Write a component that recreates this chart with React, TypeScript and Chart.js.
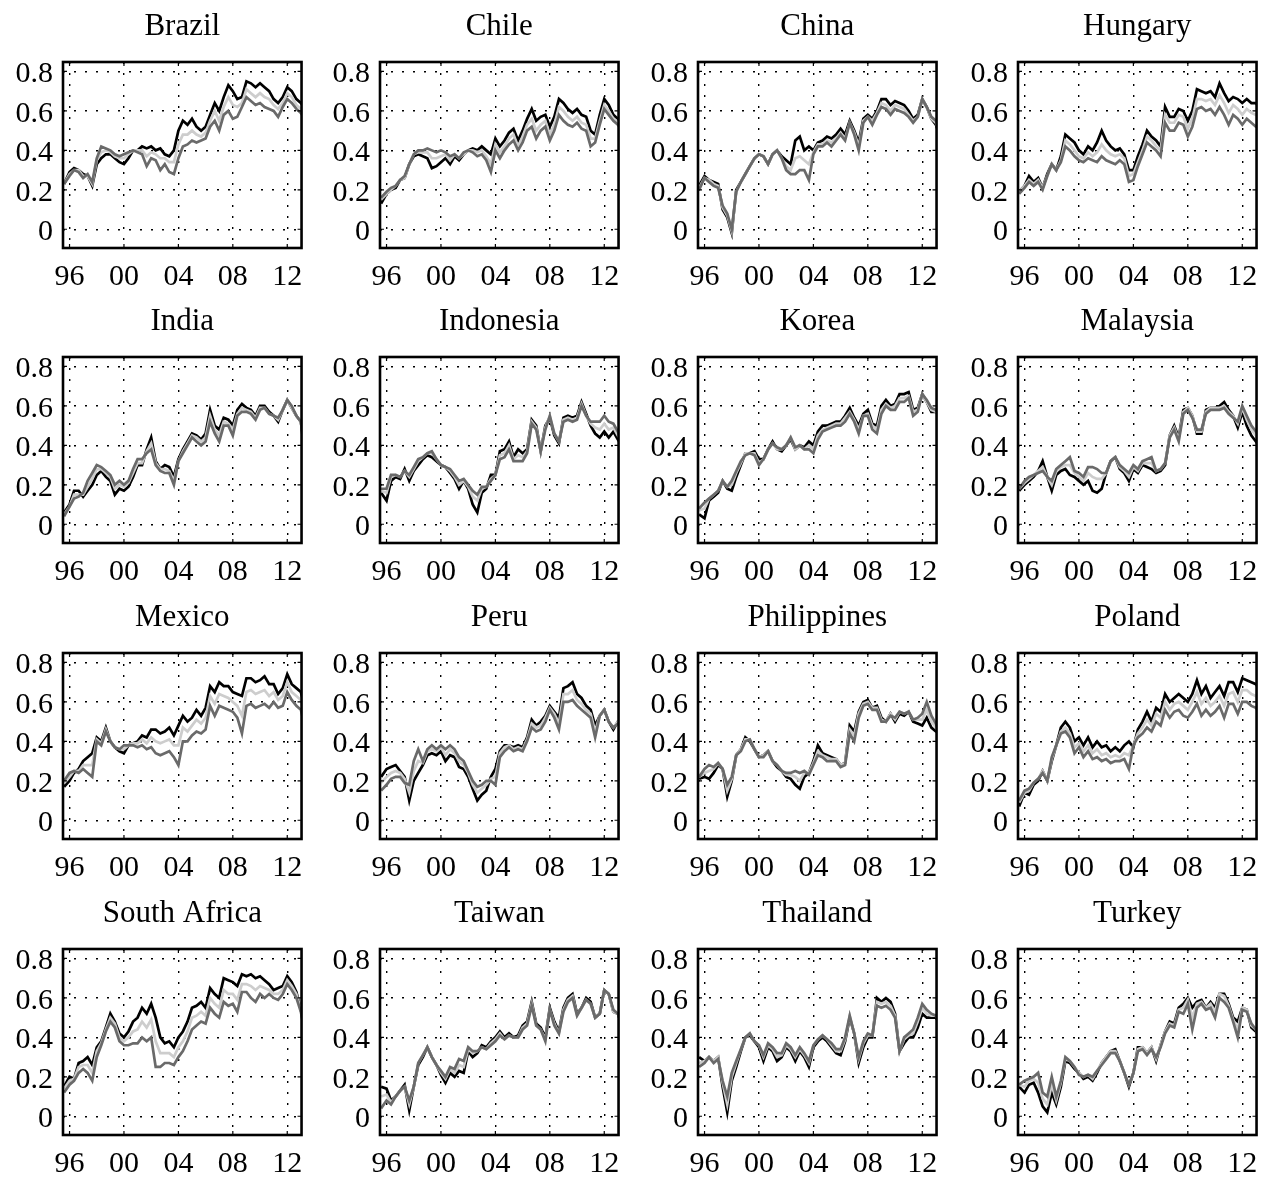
import React, { useEffect, useRef } from "react";
import { Chart, registerables } from "chart.js";

Chart.register(...registerables);

// ---------- data ----------
const dates = [1995.6, 1996.0, 1996.33, 1996.67, 1997.0, 1997.33, 1997.67, 1998.0, 1998.33, 1998.67, 1999.0, 1999.33, 1999.67, 2000.0, 2000.33, 2000.67, 2001.0, 2001.33, 2001.67, 2002.0, 2002.33, 2002.67, 2003.0, 2003.33, 2003.67, 2004.0, 2004.33, 2004.67, 2005.0, 2005.33, 2005.67, 2006.0, 2006.33, 2006.67, 2007.0, 2007.33, 2007.67, 2008.0, 2008.33, 2008.67, 2009.0, 2009.33, 2009.67, 2010.0, 2010.33, 2010.67, 2011.0, 2011.33, 2011.67, 2012.0, 2012.33, 2012.67, 2013.0, 2013.1];

const xTickValues = [1996, 2000, 2004, 2008, 2012];
const xTickLabels = ["96", "00", "04", "08", "12"];
const yTickValues = [0, 0.2, 0.4, 0.6, 0.8];
const yTickLabels = ["0", "0.2", "0.4", "0.6", "0.8"];

const brazilBlack = [0.23,0.29,0.31,0.30,0.28,0.27,0.22,0.33,0.36,0.38,0.38,0.36,0.34,0.33,0.36,0.40,0.40,0.42,0.41,0.42,0.40,0.41,0.38,0.37,0.40,0.50,0.55,0.53,0.56,0.52,0.50,0.52,0.58,0.64,0.60,0.67,0.73,0.70,0.66,0.67,0.75,0.74,0.72,0.74,0.72,0.70,0.66,0.64,0.67,0.72,0.70,0.66,0.64,0.63];
const brazilLight = [0.23,0.28,0.30,0.30,0.27,0.27,0.23,0.35,0.39,0.40,0.39,0.37,0.36,0.36,0.38,0.40,0.40,0.40,0.37,0.39,0.38,0.36,0.36,0.34,0.34,0.43,0.48,0.48,0.50,0.48,0.47,0.49,0.55,0.60,0.55,0.62,0.67,0.63,0.62,0.64,0.71,0.69,0.67,0.69,0.67,0.66,0.63,0.61,0.64,0.69,0.67,0.63,0.61,0.60];
const brazilDark = [0.23,0.27,0.30,0.29,0.26,0.28,0.24,0.36,0.42,0.41,0.40,0.38,0.37,0.38,0.39,0.40,0.39,0.38,0.32,0.36,0.35,0.30,0.33,0.29,0.28,0.36,0.42,0.43,0.45,0.44,0.45,0.46,0.52,0.55,0.50,0.58,0.60,0.56,0.57,0.62,0.67,0.65,0.63,0.64,0.62,0.61,0.60,0.57,0.62,0.66,0.64,0.61,0.59,0.58];

const chileBlack = [0.13,0.18,0.20,0.21,0.25,0.26,0.33,0.37,0.38,0.37,0.36,0.31,0.32,0.34,0.36,0.33,0.37,0.35,0.38,0.40,0.41,0.40,0.42,0.40,0.38,0.46,0.42,0.45,0.49,0.51,0.45,0.50,0.56,0.61,0.55,0.57,0.58,0.52,0.57,0.66,0.64,0.61,0.59,0.61,0.58,0.57,0.50,0.48,0.58,0.66,0.63,0.58,0.56,0.55];
const chileLight = [0.15,0.18,0.20,0.22,0.25,0.26,0.33,0.38,0.39,0.39,0.39,0.36,0.36,0.37,0.38,0.35,0.38,0.36,0.38,0.40,0.40,0.39,0.40,0.37,0.33,0.43,0.39,0.42,0.46,0.48,0.42,0.47,0.53,0.56,0.50,0.53,0.55,0.48,0.53,0.62,0.60,0.57,0.55,0.57,0.54,0.53,0.46,0.46,0.55,0.63,0.60,0.56,0.54,0.53];
const chileDark = [0.16,0.19,0.21,0.22,0.25,0.27,0.33,0.38,0.40,0.40,0.41,0.40,0.39,0.40,0.39,0.37,0.38,0.36,0.39,0.40,0.39,0.37,0.38,0.35,0.29,0.40,0.36,0.40,0.43,0.45,0.40,0.44,0.50,0.52,0.46,0.50,0.52,0.45,0.50,0.58,0.55,0.53,0.52,0.54,0.51,0.50,0.42,0.44,0.53,0.61,0.58,0.55,0.53,0.52];

const chinaBlack = [0.22,0.27,0.25,0.24,0.23,0.10,0.06,-0.02,0.20,0.24,0.28,0.32,0.36,0.38,0.37,0.33,0.38,0.40,0.37,0.35,0.33,0.45,0.47,0.40,0.42,0.40,0.44,0.45,0.47,0.46,0.48,0.51,0.48,0.55,0.50,0.44,0.56,0.58,0.56,0.60,0.66,0.66,0.63,0.65,0.64,0.63,0.60,0.56,0.58,0.66,0.62,0.56,0.53,0.51];
const chinaLight = [0.21,0.26,0.25,0.23,0.22,0.11,0.07,-0.01,0.19,0.24,0.28,0.32,0.36,0.38,0.37,0.33,0.38,0.40,0.36,0.32,0.30,0.36,0.37,0.35,0.33,0.39,0.43,0.43,0.45,0.44,0.46,0.49,0.46,0.54,0.49,0.42,0.55,0.57,0.55,0.59,0.64,0.63,0.60,0.63,0.62,0.61,0.58,0.55,0.57,0.66,0.62,0.56,0.54,0.52];
const chinaDark = [0.20,0.26,0.24,0.22,0.21,0.12,0.08,0.00,0.19,0.24,0.28,0.32,0.36,0.38,0.37,0.33,0.38,0.40,0.36,0.30,0.28,0.28,0.30,0.30,0.25,0.38,0.42,0.42,0.44,0.42,0.45,0.48,0.45,0.54,0.48,0.40,0.54,0.57,0.53,0.58,0.62,0.61,0.58,0.61,0.60,0.59,0.57,0.54,0.57,0.66,0.62,0.57,0.55,0.54];

const hungaryBlack = [0.19,0.22,0.27,0.24,0.26,0.21,0.28,0.33,0.30,0.37,0.48,0.46,0.44,0.40,0.38,0.42,0.40,0.44,0.50,0.45,0.42,0.40,0.41,0.38,0.30,0.30,0.37,0.43,0.50,0.47,0.45,0.42,0.62,0.57,0.57,0.61,0.60,0.55,0.60,0.71,0.70,0.69,0.70,0.67,0.74,0.69,0.65,0.67,0.66,0.64,0.66,0.64,0.64,0.63];
const hungaryLight = [0.19,0.22,0.25,0.23,0.25,0.21,0.27,0.33,0.30,0.35,0.45,0.43,0.40,0.37,0.36,0.39,0.37,0.39,0.43,0.40,0.38,0.37,0.38,0.36,0.27,0.28,0.34,0.40,0.47,0.45,0.42,0.40,0.58,0.54,0.54,0.58,0.57,0.51,0.56,0.66,0.66,0.65,0.66,0.63,0.68,0.64,0.59,0.63,0.61,0.58,0.61,0.59,0.58,0.58];
const hungaryDark = [0.18,0.21,0.24,0.22,0.24,0.20,0.27,0.33,0.30,0.34,0.42,0.40,0.37,0.35,0.34,0.36,0.35,0.34,0.37,0.35,0.34,0.33,0.35,0.33,0.24,0.25,0.32,0.38,0.44,0.42,0.40,0.37,0.54,0.50,0.50,0.54,0.53,0.47,0.52,0.61,0.62,0.60,0.61,0.58,0.62,0.58,0.53,0.58,0.56,0.53,0.56,0.54,0.52,0.52];

const indiaBlack = [0.06,0.10,0.17,0.17,0.14,0.17,0.20,0.25,0.27,0.24,0.22,0.15,0.18,0.17,0.19,0.24,0.30,0.30,0.38,0.44,0.32,0.28,0.30,0.29,0.24,0.33,0.38,0.42,0.46,0.45,0.43,0.46,0.58,0.50,0.48,0.54,0.53,0.50,0.58,0.61,0.59,0.58,0.55,0.60,0.60,0.57,0.55,0.52,0.58,0.63,0.59,0.55,0.52,0.47];
const indiaLight = [0.05,0.09,0.15,0.15,0.15,0.19,0.23,0.28,0.28,0.26,0.24,0.18,0.20,0.19,0.21,0.26,0.31,0.31,0.37,0.41,0.31,0.28,0.28,0.27,0.22,0.32,0.37,0.41,0.45,0.44,0.42,0.44,0.55,0.48,0.45,0.52,0.51,0.48,0.56,0.59,0.58,0.57,0.54,0.59,0.59,0.56,0.55,0.53,0.58,0.63,0.59,0.55,0.52,0.46];
const indiaDark = [0.04,0.09,0.13,0.14,0.16,0.22,0.26,0.30,0.29,0.27,0.25,0.20,0.22,0.20,0.22,0.28,0.33,0.33,0.36,0.38,0.30,0.27,0.26,0.26,0.20,0.32,0.36,0.40,0.44,0.42,0.40,0.42,0.52,0.46,0.42,0.50,0.50,0.45,0.55,0.57,0.57,0.56,0.53,0.58,0.59,0.56,0.55,0.54,0.58,0.63,0.60,0.55,0.52,0.46];

const indonesiaBlack = [0.16,0.12,0.22,0.24,0.23,0.28,0.22,0.27,0.30,0.33,0.35,0.34,0.32,0.30,0.29,0.26,0.23,0.18,0.22,0.18,0.10,0.06,0.16,0.18,0.25,0.25,0.37,0.38,0.42,0.34,0.38,0.36,0.38,0.53,0.50,0.37,0.50,0.54,0.45,0.41,0.54,0.55,0.54,0.55,0.62,0.56,0.50,0.46,0.44,0.47,0.44,0.47,0.43,0.42];
const indonesiaLight = [0.17,0.16,0.24,0.25,0.24,0.27,0.24,0.28,0.32,0.34,0.36,0.36,0.33,0.30,0.29,0.27,0.24,0.20,0.22,0.19,0.14,0.12,0.18,0.19,0.23,0.25,0.35,0.36,0.40,0.33,0.35,0.34,0.37,0.52,0.49,0.37,0.49,0.55,0.46,0.42,0.53,0.54,0.53,0.54,0.61,0.55,0.51,0.49,0.48,0.51,0.48,0.49,0.45,0.44];
const indonesiaDark = [0.18,0.18,0.25,0.25,0.24,0.27,0.25,0.29,0.33,0.34,0.36,0.37,0.33,0.30,0.29,0.28,0.25,0.22,0.23,0.20,0.17,0.15,0.19,0.19,0.22,0.25,0.33,0.34,0.38,0.32,0.32,0.32,0.36,0.51,0.48,0.37,0.48,0.55,0.46,0.42,0.52,0.53,0.52,0.53,0.60,0.55,0.52,0.52,0.52,0.55,0.52,0.51,0.47,0.45];

const koreaBlack = [0.05,0.03,0.12,0.14,0.16,0.22,0.18,0.17,0.24,0.30,0.36,0.36,0.37,0.33,0.33,0.38,0.42,0.38,0.37,0.40,0.43,0.38,0.40,0.39,0.42,0.40,0.47,0.50,0.50,0.51,0.52,0.52,0.55,0.59,0.54,0.50,0.56,0.58,0.51,0.50,0.60,0.63,0.60,0.61,0.66,0.66,0.67,0.58,0.59,0.66,0.62,0.57,0.57,0.56];
const koreaLight = [0.07,0.08,0.13,0.15,0.17,0.22,0.19,0.20,0.26,0.31,0.36,0.36,0.36,0.31,0.33,0.38,0.41,0.38,0.38,0.40,0.44,0.38,0.40,0.38,0.40,0.38,0.45,0.48,0.49,0.50,0.51,0.51,0.54,0.57,0.53,0.48,0.55,0.56,0.50,0.48,0.58,0.61,0.59,0.60,0.64,0.64,0.65,0.57,0.58,0.66,0.62,0.58,0.57,0.56];
const koreaDark = [0.08,0.11,0.13,0.15,0.17,0.22,0.19,0.22,0.27,0.32,0.35,0.36,0.35,0.30,0.33,0.38,0.41,0.39,0.38,0.40,0.44,0.39,0.40,0.38,0.38,0.36,0.43,0.47,0.48,0.49,0.50,0.50,0.52,0.56,0.52,0.46,0.55,0.55,0.48,0.46,0.56,0.60,0.58,0.58,0.62,0.62,0.64,0.55,0.57,0.66,0.63,0.59,0.58,0.57];

const malaysiaBlack = [0.17,0.20,0.22,0.24,0.27,0.32,0.24,0.17,0.25,0.27,0.28,0.25,0.24,0.22,0.20,0.22,0.17,0.16,0.18,0.26,0.32,0.34,0.28,0.26,0.22,0.28,0.26,0.30,0.29,0.28,0.26,0.27,0.30,0.45,0.50,0.44,0.58,0.59,0.55,0.46,0.46,0.58,0.59,0.59,0.60,0.62,0.58,0.55,0.49,0.57,0.50,0.45,0.42,0.41];
const malaysiaLight = [0.18,0.21,0.23,0.25,0.27,0.29,0.24,0.20,0.27,0.29,0.30,0.30,0.26,0.24,0.22,0.26,0.24,0.23,0.23,0.26,0.32,0.34,0.29,0.27,0.24,0.29,0.27,0.31,0.31,0.31,0.27,0.28,0.31,0.45,0.49,0.43,0.57,0.59,0.55,0.47,0.47,0.57,0.59,0.59,0.59,0.60,0.57,0.55,0.51,0.59,0.53,0.48,0.45,0.44];
const malaysiaDark = [0.18,0.22,0.24,0.25,0.26,0.27,0.24,0.22,0.28,0.30,0.32,0.34,0.27,0.26,0.24,0.29,0.29,0.28,0.26,0.26,0.32,0.34,0.30,0.28,0.26,0.30,0.28,0.32,0.33,0.34,0.27,0.28,0.31,0.44,0.48,0.42,0.56,0.58,0.54,0.48,0.48,0.56,0.58,0.58,0.58,0.59,0.56,0.54,0.52,0.60,0.55,0.50,0.47,0.46];

const mexicoBlack = [0.17,0.20,0.24,0.26,0.30,0.32,0.34,0.42,0.40,0.47,0.40,0.37,0.35,0.34,0.38,0.39,0.40,0.43,0.42,0.46,0.46,0.44,0.45,0.47,0.43,0.48,0.53,0.50,0.52,0.56,0.53,0.57,0.68,0.65,0.70,0.68,0.68,0.65,0.64,0.63,0.72,0.72,0.70,0.71,0.73,0.69,0.69,0.64,0.67,0.74,0.69,0.67,0.65,0.62];
const mexicoLight = [0.19,0.22,0.25,0.25,0.28,0.28,0.28,0.41,0.39,0.46,0.40,0.37,0.36,0.36,0.38,0.39,0.39,0.41,0.39,0.42,0.40,0.39,0.40,0.41,0.38,0.38,0.47,0.45,0.48,0.51,0.49,0.52,0.63,0.59,0.64,0.63,0.62,0.60,0.58,0.53,0.65,0.66,0.64,0.65,0.66,0.63,0.65,0.61,0.63,0.70,0.65,0.63,0.61,0.58];
const mexicoDark = [0.20,0.24,0.25,0.24,0.26,0.24,0.22,0.40,0.38,0.45,0.40,0.37,0.36,0.38,0.38,0.38,0.37,0.38,0.36,0.37,0.34,0.33,0.34,0.35,0.32,0.28,0.40,0.40,0.43,0.45,0.44,0.46,0.58,0.53,0.58,0.57,0.56,0.55,0.52,0.44,0.58,0.59,0.57,0.58,0.59,0.57,0.60,0.57,0.58,0.65,0.61,0.58,0.56,0.53];

const peruBlack = [0.22,0.26,0.27,0.28,0.25,0.22,0.10,0.20,0.24,0.28,0.33,0.34,0.33,0.35,0.30,0.33,0.32,0.27,0.26,0.22,0.16,0.10,0.13,0.15,0.22,0.26,0.35,0.38,0.38,0.37,0.38,0.37,0.42,0.51,0.48,0.50,0.53,0.58,0.55,0.52,0.67,0.68,0.70,0.64,0.62,0.58,0.56,0.48,0.53,0.56,0.50,0.46,0.50,0.50];
const peruLight = [0.19,0.22,0.24,0.25,0.24,0.21,0.14,0.25,0.30,0.29,0.35,0.36,0.35,0.37,0.33,0.36,0.34,0.30,0.28,0.24,0.18,0.14,0.16,0.18,0.21,0.22,0.34,0.37,0.38,0.36,0.37,0.36,0.41,0.49,0.47,0.48,0.52,0.57,0.54,0.49,0.64,0.64,0.66,0.61,0.59,0.56,0.54,0.45,0.53,0.56,0.50,0.47,0.50,0.50];
const peruDark = [0.15,0.18,0.21,0.22,0.22,0.19,0.18,0.30,0.36,0.30,0.36,0.38,0.36,0.38,0.36,0.38,0.36,0.32,0.30,0.25,0.20,0.17,0.18,0.20,0.20,0.18,0.32,0.35,0.37,0.35,0.36,0.35,0.40,0.47,0.45,0.46,0.50,0.56,0.52,0.46,0.60,0.60,0.61,0.58,0.56,0.54,0.52,0.42,0.53,0.56,0.50,0.47,0.49,0.49];

const philippinesBlack = [0.21,0.22,0.21,0.24,0.28,0.26,0.12,0.20,0.33,0.36,0.42,0.40,0.36,0.32,0.33,0.35,0.30,0.27,0.25,0.22,0.21,0.18,0.16,0.22,0.24,0.30,0.38,0.34,0.33,0.32,0.31,0.28,0.29,0.48,0.45,0.55,0.60,0.61,0.57,0.58,0.52,0.50,0.54,0.50,0.54,0.53,0.55,0.50,0.49,0.48,0.52,0.47,0.45,0.45];
const philippinesLight = [0.22,0.24,0.25,0.26,0.29,0.26,0.15,0.21,0.33,0.36,0.41,0.41,0.36,0.32,0.33,0.35,0.30,0.28,0.25,0.23,0.23,0.22,0.20,0.24,0.24,0.29,0.35,0.33,0.32,0.31,0.31,0.28,0.29,0.46,0.43,0.54,0.59,0.60,0.57,0.57,0.51,0.50,0.54,0.51,0.55,0.54,0.55,0.51,0.51,0.51,0.56,0.50,0.47,0.46];
const philippinesDark = [0.22,0.26,0.28,0.27,0.29,0.26,0.18,0.22,0.33,0.35,0.40,0.41,0.36,0.32,0.32,0.35,0.30,0.28,0.25,0.24,0.24,0.25,0.24,0.25,0.23,0.28,0.33,0.32,0.30,0.30,0.30,0.27,0.28,0.44,0.40,0.52,0.58,0.59,0.56,0.56,0.50,0.50,0.53,0.52,0.55,0.54,0.55,0.51,0.52,0.54,0.60,0.53,0.49,0.47];

const polandBlack = [0.07,0.14,0.13,0.18,0.20,0.25,0.20,0.30,0.38,0.47,0.50,0.47,0.40,0.42,0.38,0.42,0.37,0.40,0.37,0.38,0.35,0.37,0.35,0.38,0.40,0.37,0.46,0.50,0.55,0.50,0.57,0.55,0.64,0.60,0.62,0.64,0.62,0.60,0.64,0.71,0.64,0.68,0.62,0.65,0.68,0.63,0.70,0.70,0.65,0.72,0.71,0.70,0.69,0.68];
const polandLight = [0.09,0.14,0.15,0.19,0.21,0.25,0.20,0.31,0.38,0.45,0.47,0.44,0.37,0.39,0.35,0.38,0.34,0.36,0.33,0.34,0.32,0.33,0.32,0.34,0.33,0.38,0.44,0.47,0.51,0.48,0.54,0.52,0.60,0.56,0.59,0.60,0.58,0.56,0.60,0.65,0.59,0.62,0.58,0.60,0.63,0.58,0.64,0.65,0.60,0.66,0.66,0.64,0.63,0.62];
const polandDark = [0.10,0.15,0.16,0.19,0.21,0.24,0.20,0.32,0.38,0.44,0.45,0.42,0.34,0.37,0.32,0.35,0.31,0.32,0.30,0.31,0.29,0.30,0.30,0.31,0.26,0.38,0.42,0.44,0.47,0.45,0.50,0.48,0.56,0.52,0.55,0.56,0.53,0.52,0.55,0.59,0.53,0.56,0.53,0.55,0.58,0.52,0.59,0.59,0.54,0.60,0.60,0.58,0.57,0.56];

const southAfricaBlack = [0.15,0.20,0.19,0.27,0.28,0.30,0.26,0.35,0.38,0.45,0.52,0.48,0.42,0.40,0.43,0.48,0.50,0.55,0.52,0.57,0.50,0.40,0.37,0.38,0.35,0.40,0.43,0.48,0.55,0.56,0.58,0.55,0.65,0.62,0.60,0.70,0.69,0.68,0.66,0.72,0.71,0.72,0.70,0.71,0.69,0.67,0.64,0.65,0.66,0.71,0.68,0.63,0.54,0.50];
const southAfricaLight = [0.14,0.18,0.19,0.25,0.26,0.26,0.22,0.33,0.37,0.44,0.50,0.47,0.40,0.38,0.40,0.43,0.44,0.48,0.45,0.49,0.38,0.32,0.32,0.32,0.30,0.35,0.38,0.43,0.50,0.51,0.53,0.51,0.60,0.57,0.55,0.64,0.62,0.62,0.59,0.67,0.67,0.66,0.64,0.66,0.65,0.64,0.62,0.62,0.64,0.69,0.66,0.62,0.54,0.50];
const southAfricaDark = [0.12,0.16,0.18,0.22,0.24,0.22,0.18,0.30,0.36,0.43,0.48,0.45,0.38,0.36,0.36,0.37,0.37,0.40,0.38,0.40,0.25,0.25,0.27,0.27,0.26,0.30,0.33,0.38,0.44,0.46,0.48,0.47,0.55,0.52,0.50,0.58,0.56,0.57,0.53,0.63,0.63,0.60,0.58,0.62,0.60,0.62,0.60,0.59,0.62,0.67,0.64,0.60,0.53,0.49];

const taiwanBlack = [0.15,0.14,0.08,0.10,0.13,0.16,0.03,0.15,0.26,0.30,0.35,0.30,0.26,0.21,0.17,0.22,0.20,0.23,0.22,0.33,0.30,0.32,0.36,0.35,0.38,0.40,0.43,0.40,0.42,0.40,0.41,0.46,0.48,0.58,0.47,0.45,0.40,0.55,0.48,0.43,0.55,0.60,0.62,0.52,0.55,0.60,0.58,0.50,0.52,0.64,0.62,0.53,0.52,0.50];
const taiwanLight = [0.10,0.11,0.07,0.10,0.13,0.15,0.06,0.15,0.27,0.31,0.35,0.30,0.26,0.22,0.19,0.24,0.22,0.26,0.25,0.34,0.32,0.33,0.35,0.34,0.37,0.39,0.42,0.39,0.41,0.40,0.40,0.45,0.47,0.57,0.46,0.44,0.39,0.54,0.47,0.42,0.54,0.59,0.61,0.51,0.55,0.59,0.57,0.50,0.52,0.64,0.62,0.53,0.52,0.50];
const taiwanDark = [0.04,0.08,0.06,0.10,0.13,0.15,0.08,0.15,0.27,0.31,0.35,0.30,0.26,0.23,0.20,0.25,0.24,0.29,0.28,0.35,0.33,0.33,0.35,0.34,0.36,0.38,0.41,0.39,0.41,0.40,0.40,0.44,0.46,0.56,0.46,0.44,0.38,0.54,0.46,0.42,0.53,0.58,0.60,0.51,0.55,0.59,0.57,0.50,0.52,0.64,0.62,0.54,0.52,0.50];

const thailandBlack = [0.30,0.28,0.30,0.28,0.30,0.15,0.02,0.18,0.25,0.33,0.40,0.41,0.38,0.35,0.28,0.35,0.33,0.28,0.30,0.35,0.33,0.28,0.33,0.30,0.25,0.35,0.38,0.40,0.38,0.35,0.32,0.31,0.38,0.50,0.42,0.27,0.35,0.40,0.40,0.60,0.58,0.60,0.58,0.52,0.33,0.37,0.40,0.40,0.45,0.52,0.50,0.50,0.50,0.49];
const thailandLight = [0.27,0.28,0.30,0.28,0.30,0.17,0.06,0.20,0.27,0.34,0.40,0.42,0.38,0.36,0.30,0.36,0.34,0.30,0.31,0.36,0.34,0.30,0.34,0.31,0.27,0.36,0.39,0.41,0.39,0.36,0.33,0.33,0.39,0.51,0.42,0.29,0.37,0.41,0.41,0.58,0.57,0.58,0.56,0.51,0.33,0.39,0.41,0.42,0.48,0.55,0.52,0.51,0.51,0.50];
const thailandDark = [0.25,0.27,0.30,0.27,0.29,0.18,0.10,0.22,0.28,0.34,0.40,0.42,0.38,0.36,0.31,0.37,0.35,0.32,0.32,0.37,0.35,0.31,0.35,0.32,0.28,0.36,0.39,0.41,0.39,0.37,0.34,0.34,0.40,0.51,0.42,0.30,0.38,0.42,0.41,0.56,0.55,0.56,0.54,0.50,0.33,0.40,0.42,0.44,0.50,0.57,0.54,0.52,0.51,0.50];

const turkeyBlack = [0.15,0.12,0.16,0.17,0.12,0.05,0.02,0.12,0.06,0.15,0.28,0.27,0.24,0.22,0.19,0.20,0.18,0.22,0.27,0.30,0.33,0.34,0.28,0.22,0.15,0.22,0.35,0.35,0.32,0.35,0.28,0.36,0.43,0.48,0.47,0.55,0.57,0.60,0.55,0.58,0.59,0.55,0.58,0.55,0.62,0.62,0.57,0.50,0.48,0.55,0.54,0.45,0.43,0.42];
const turkeyLight = [0.16,0.15,0.18,0.19,0.17,0.09,0.06,0.16,0.08,0.17,0.29,0.28,0.25,0.22,0.20,0.21,0.19,0.23,0.27,0.30,0.33,0.33,0.28,0.22,0.16,0.22,0.34,0.35,0.32,0.35,0.29,0.36,0.43,0.47,0.46,0.54,0.55,0.59,0.50,0.57,0.58,0.55,0.57,0.53,0.62,0.61,0.56,0.49,0.44,0.55,0.54,0.46,0.44,0.42];
const turkeyDark = [0.16,0.18,0.19,0.20,0.22,0.12,0.10,0.20,0.10,0.18,0.30,0.28,0.25,0.21,0.20,0.21,0.20,0.23,0.26,0.29,0.32,0.32,0.28,0.22,0.16,0.22,0.33,0.34,0.31,0.34,0.30,0.35,0.42,0.46,0.45,0.53,0.52,0.57,0.44,0.55,0.57,0.54,0.55,0.50,0.60,0.58,0.55,0.48,0.40,0.54,0.53,0.47,0.44,0.42];

const countries = ["Brazil", "Chile", "China", "Hungary", "India", "Indonesia", "Korea", "Malaysia", "Mexico", "Peru", "Philippines", "Poland", "South Africa", "Taiwan", "Thailand", "Turkey"];
const blackSeries = [brazilBlack, chileBlack, chinaBlack, hungaryBlack, indiaBlack, indonesiaBlack, koreaBlack, malaysiaBlack, mexicoBlack, peruBlack, philippinesBlack, polandBlack, southAfricaBlack, taiwanBlack, thailandBlack, turkeyBlack];
const lightSeries = [brazilLight, chileLight, chinaLight, hungaryLight, indiaLight, indonesiaLight, koreaLight, malaysiaLight, mexicoLight, peruLight, philippinesLight, polandLight, southAfricaLight, taiwanLight, thailandLight, turkeyLight];
const darkSeries = [brazilDark, chileDark, chinaDark, hungaryDark, indiaDark, indonesiaDark, koreaDark, malaysiaDark, mexicoDark, peruDark, philippinesDark, polandDark, southAfricaDark, taiwanDark, thailandDark, turkeyDark];

// ---------- layout / style ----------
const FONT = "'Liberation Serif', 'Times New Roman', Times, serif";
const PLOT_LEFTS = [63, 380, 698, 1018];
const PLOT_TOPS = [62, 357, 653, 949];
const Y_AXIS_W = 60;
const TITLE_H = 62;
const X_AXIS_H = 45;
const PLOT_W = 244;
const PLOT_H = 186;
const RIGHT_PAD = 7;
const CANVAS_W = Y_AXIS_W + PLOT_W + RIGHT_PAD;
const CANVAS_H = TITLE_H + PLOT_H + X_AXIS_H;

const boxPlugin = {
  id: "matlabBox",
  afterDatasetsDraw(chart: any) {
    const { ctx, chartArea: a, scales } = chart;
    ctx.save();
    ctx.strokeStyle = "#000";
    ctx.lineWidth = 1.2;
    ctx.beginPath();
    for (const t of scales.x.ticks) {
      const px = scales.x.getPixelForValue(t.value);
      ctx.moveTo(px, a.bottom);
      ctx.lineTo(px, a.bottom - 4);
      ctx.moveTo(px, a.top);
      ctx.lineTo(px, a.top + 4);
    }
    for (const t of scales.y.ticks) {
      const py = scales.y.getPixelForValue(t.value);
      ctx.moveTo(a.left, py);
      ctx.lineTo(a.left + 4, py);
      ctx.moveTo(a.right, py);
      ctx.lineTo(a.right - 4, py);
    }
    ctx.stroke();
    ctx.lineWidth = 2.6;
    ctx.strokeRect(a.left, a.top, a.right - a.left, a.bottom - a.top);
    ctx.restore();
  },
};

function Panel({ index }: { index: number }) {
  const ref = useRef<HTMLCanvasElement>(null);
  const col = index % 4;
  const row = Math.floor(index / 4);
  const left = PLOT_LEFTS[col] - Y_AXIS_W;
  const top = PLOT_TOPS[row] - TITLE_H;

  useEffect(() => {
    if (!ref.current) return;
    const toPts = (arr: number[]) => arr.map((v, i) => ({ x: dates[i], y: v }));
    const chart = new Chart(ref.current, {
      type: "line",
      data: {
        datasets: [
          { label: "dark", data: toPts(darkSeries[index]), borderColor: "#6a6a6a", borderWidth: 2.7, pointRadius: 0, tension: 0 },
          { label: "light", data: toPts(lightSeries[index]), borderColor: "#cdcdcd", borderWidth: 2.7, pointRadius: 0, tension: 0 },
          { label: "black", data: toPts(blackSeries[index]), borderColor: "#000000", borderWidth: 2.7, pointRadius: 0, tension: 0 },
        ],
      },
      options: {
        animation: false,
        responsive: false,
        maintainAspectRatio: false,
        layout: { padding: { left: 0, right: RIGHT_PAD, top: 0, bottom: 0 } },
        plugins: {
          legend: { display: false },
          tooltip: { enabled: false },
          title: {
            display: true,
            text: countries[index],
            fullSize: false,
            color: "#000",
            font: { family: FONT, size: 31, weight: "normal", lineHeight: 1.2 },
            padding: { top: 8, bottom: 16.8 },
          },
        },
        scales: {
          x: {
            type: "linear",
            min: 1995.52,
            max: 2013.05,
            afterBuildTicks: (scale: any) => {
              scale.ticks = xTickValues.map((v) => ({ value: v }));
            },
            afterFit: (scale: any) => {
              scale.height = X_AXIS_H;
            },
            ticks: {
              autoSkip: false,
              maxRotation: 0,
              minRotation: 0,
              padding: 11,
              color: "#000",
              font: { family: FONT, size: 30 },
              callback: (_v: any, i: number) => xTickLabels[i],
            },
            grid: { color: "#000", lineWidth: 1.4, drawTicks: false },
            border: { display: false, dash: [2, 9] },
          },
          y: {
            type: "linear",
            min: -0.095,
            max: 0.848,
            afterBuildTicks: (scale: any) => {
              scale.ticks = yTickValues.map((v) => ({ value: v }));
            },
            afterFit: (scale: any) => {
              scale.width = Y_AXIS_W;
            },
            ticks: {
              autoSkip: false,
              padding: 10,
              labelOffset: 3,
              color: "#000",
              font: { family: FONT, size: 30 },
              callback: (_v: any, i: number) => yTickLabels[i],
            },
            grid: { color: "#000", lineWidth: 1.4, drawTicks: false },
            border: { display: false, dash: [2, 9] },
          },
        },
      },
      plugins: [boxPlugin],
    } as any);
    return () => chart.destroy();
  }, [index]);

  return (
    <div style={{ position: "absolute", left, top, width: CANVAS_W, height: CANVAS_H }}>
      <canvas ref={ref} width={CANVAS_W} height={CANVAS_H} style={{ width: CANVAS_W, height: CANVAS_H, display: "block" }} />
    </div>
  );
}

export default function App() {
  return (
    <div style={{ position: "absolute", left: 0, top: 0, width: 1265, height: 1180, background: "#fff", overflow: "hidden" }}>
      {countries.map((_, i) => (
        <Panel key={i} index={i} />
      ))}
    </div>
  );
}
